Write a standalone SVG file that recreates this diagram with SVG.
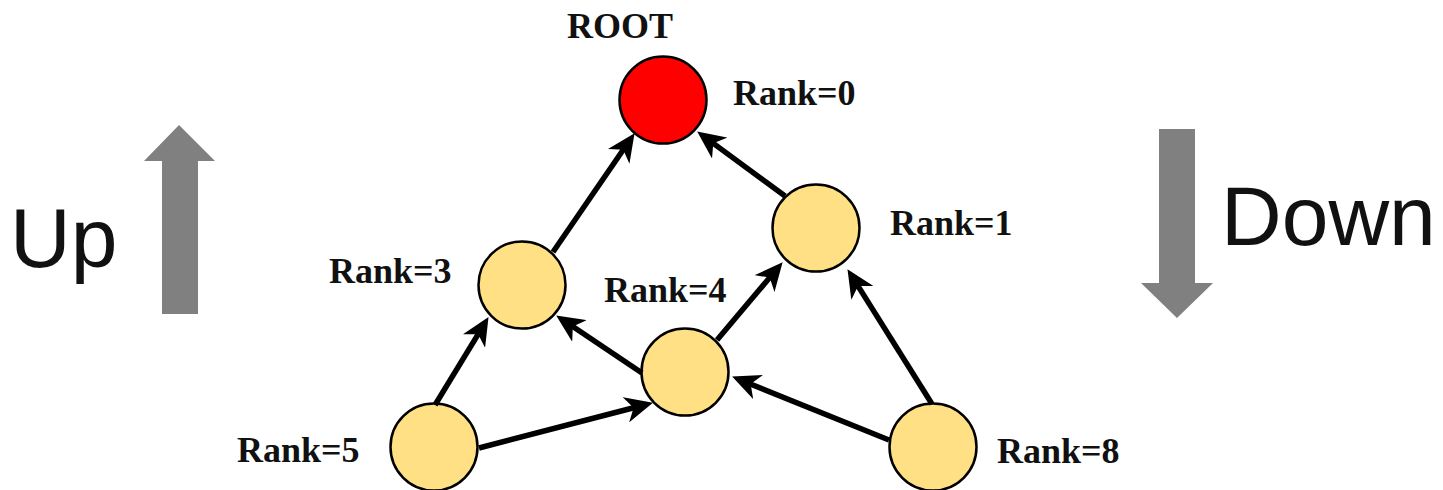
<svg xmlns="http://www.w3.org/2000/svg" width="1443" height="490" viewBox="0 0 1443 490">
  <style>
    .node { fill: #FFE084; stroke: #000; stroke-width: 2.5; }
    .root { fill: #FF0000; stroke: #000; stroke-width: 2.5; }
    .label { font-family: "Liberation Serif", "Times New Roman", serif; font-weight: bold; font-size: 36px; fill: #111; }
    .big { font-family: "Liberation Sans", Arial, sans-serif; font-size: 84px; fill: #111; }
    .edge { stroke: #000; stroke-width: 5.5; fill: none; marker-end: url(#head); }
    .dir { fill: #808080; }
  </style>
  <defs>
    <marker id="head" viewBox="0 0 28 26" refX="21" refY="13" markerWidth="28" markerHeight="26" markerUnits="userSpaceOnUse" orient="auto">
      <path d="M0,0 L28,13 L0,26 L8,13 z" fill="#000"/>
    </marker>
  </defs>

  <!-- direction indicators -->
  <g id="up">
    <polygon class="dir" points="179,125 215,161 198,161 198,314 162,314 162,161 144,161"/>
    <text class="big" x="10" y="267">Up</text>
  </g>
  <g id="down">
    <polygon class="dir" points="1159,129 1195,129 1195,283 1213,283 1177,318 1141,283 1159,283"/>
    <text class="big" x="1221" y="245">Down</text>
  </g>

  <!-- nodes -->
  <g id="node-root">
    <circle class="root" cx="663" cy="100" r="43.5"/>
    <text class="label" x="567" y="38">ROOT</text>
    <text class="label" x="733" y="105">Rank=0</text>
  </g>
  <g id="node-1">
    <circle class="node" cx="816" cy="228" r="43.5"/>
    <text class="label" x="890" y="235">Rank=1</text>
  </g>
  <g id="node-3">
    <circle class="node" cx="522" cy="285" r="43.5"/>
    <text class="label" x="329" y="283">Rank=3</text>
  </g>
  <g id="node-4">
    <circle class="node" cx="685" cy="372" r="43.5"/>
    <text class="label" x="604" y="302">Rank=4</text>
  </g>
  <g id="node-5">
    <circle class="node" cx="434" cy="447" r="43.5"/>
    <text class="label" x="237" y="462">Rank=5</text>
  </g>
  <g id="node-8">
    <circle class="node" cx="933" cy="447" r="43.5"/>
    <text class="label" x="997" y="463">Rank=8</text>
  </g>

  <!-- connectors -->
  <g id="connectors">
    <line class="edge" x1="553" y1="252" x2="630.6" y2="139"/>
    <line class="edge" x1="785" y1="196" x2="702.8" y2="135.6"/>
    <line class="edge" x1="435" y1="405" x2="484.9" y2="323.1"/>
    <line class="edge" x1="642" y1="373" x2="562" y2="319.3"/>
    <line class="edge" x1="717" y1="340" x2="778.1" y2="267.6"/>
    <line class="edge" x1="479" y1="448" x2="646.2" y2="404.5"/>
    <line class="edge" x1="889" y1="440" x2="738.6" y2="379.2"/>
    <line class="edge" x1="932" y1="404" x2="851.2" y2="275.1"/>
  </g>
</svg>
